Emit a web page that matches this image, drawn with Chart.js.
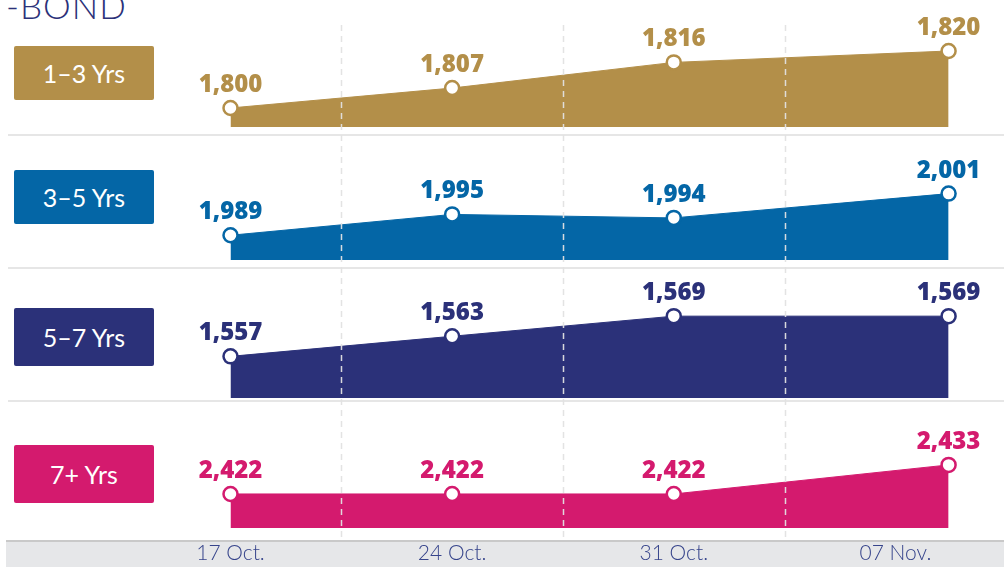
<!DOCTYPE html>
<html>
<head>
<meta charset="utf-8">
<script src="https://cdn.jsdelivr.net/npm/chart.js@4"></script>
<style>
  html, body { margin: 0; padding: 0; background: #fff; }
  #wrap { position: relative; width: 1004px; height: 567px; overflow: hidden; font-family: Lato, "Open Sans", sans-serif; }
  #title { position: absolute; left: 6px; top: -16px; font-size: 35px; font-weight: 300; color: #2b3179; letter-spacing: 1px; }
  .sep { position: absolute; left: 8px; right: 0; height: 2px; background: #e6e6e6; }
  #band { position: absolute; left: 6px; right: 0; top: 540px; height: 25px; background: #e6e7e9; border-top: 2px solid #c9c9c9; }
  .box { position: absolute; left: 14px; width: 140px; border-radius: 2px; color: #fff; font-size: 25px; font-weight: 400;
         display: flex; align-items: center; justify-content: center; }
  canvas { position: absolute; left: 0; top: 0; }
</style>
</head>
<body>
<div id="wrap">
  <div id="title">-BOND</div>
  <div class="sep" style="top:134px"></div>
  <div class="sep" style="top:267px"></div>
  <div class="sep" style="top:400px"></div>
  <div id="band"></div>
  <div id="boxes"></div>
  <canvas id="chart" width="1004" height="567"></canvas>
</div>
<script>
const dates = ['17 Oct.', '24 Oct.', '31 Oct.', '07 Nov.'];
const tickPos = [0, 1, 2, 3];
const pointPos = [0, 1, 2, 3.24];

const tenors = ['1–3 Yrs', '3–5 Yrs', '5–7 Yrs', '7+ Yrs'];
const yrs1to3 = [1800, 1807, 1816, 1820];
const yrs3to5 = [1989, 1995, 1994, 2001];
const yrs5to7 = [1557, 1563, 1569, 1569];
const yrs7plus = [2422, 2422, 2422, 2433];

const colors = ['#b38f49', '#0466a6', '#2b3179', '#d41a6e'];

// panel layout: box placement and per-panel axis window
const boxTops = [46, 170, 308, 445];
const boxHeights = [54, 54, 58, 58];
const axisRange = [
  { min: 1648.4, max: 1837.9, base: 1793.3 },
  { min: 1901.2, max: 2056.8, base: 1981.9 },
  { min: 1502.2, max: 1663.4, base: 1544.6 },
  { min: 2404.6, max: 2609.1, base: 2409.1 }
];

const boxes = document.getElementById('boxes');
tenors.forEach((t, i) => {
  const d = document.createElement('div');
  d.className = 'box';
  d.style.top = boxTops[i] + 'px';
  d.style.height = boxHeights[i] + 'px';
  d.style.background = colors[i];
  d.textContent = t;
  boxes.appendChild(d);
});

const series = [yrs1to3, yrs3to5, yrs5to7, yrs7plus];

const datasets = series.map((vals, i) => ({
  label: tenors[i],
  data: vals.map((v, j) => ({ x: pointPos[j], y: v })),
  yAxisID: 'y' + i,
  borderColor: colors[i],
  backgroundColor: colors[i],
  borderWidth: 1,
  tension: 0,
  fill: { value: axisRange[i].base },
  pointRadius: 7,
  pointBorderWidth: 2.5,
  pointBackgroundColor: '#fff',
  pointBorderColor: colors[i],
  clip: false
}));

const scales = {
  x: {
    type: 'linear',
    min: -1.04,
    max: 3.49,
    grid: { display: false, drawTicks: false },
    border: { display: false },
    afterBuildTicks: axis => { axis.ticks = tickPos.map(v => ({ value: v })); },
    ticks: {
      padding: 2,
      color: '#36448b',
      font: { family: 'Lato', size: 21, weight: '300', lineHeight: 1.1 },
      callback: (value) => dates[tickPos.indexOf(value)]
    }
  }
};
axisRange.forEach((r, i) => {
  scales['y' + i] = { display: false, min: r.min, max: r.max };
});

const overlay = {
  id: 'overlay',
  afterDatasetsDraw(chart) {
    const ctx = chart.ctx;
    const xs = chart.scales.x;
    const area = chart.chartArea;
    ctx.save();
    ctx.strokeStyle = 'rgba(226,226,226,0.95)';
    ctx.lineWidth = 1.5;
    ctx.setLineDash([6, 5]);
    for (let k = 0; k < tickPos.length - 1; k++) {
      const px = Math.round(xs.getPixelForValue(tickPos[k] + 0.5)) + 0.5;
      ctx.beginPath();
      ctx.moveTo(px, 25);
      ctx.lineTo(px, area.bottom);
      ctx.stroke();
    }
    ctx.setLineDash([]);
    ctx.textAlign = 'center';
    ctx.textBaseline = 'alphabetic';
    ctx.font = '800 24px "Open Sans"';
    chart.data.datasets.forEach((ds, i) => {
      const meta = chart.getDatasetMeta(i);
      ctx.fillStyle = colors[i];
      meta.data.forEach((pt, j) => {
        ctx.fillText(series[i][j].toLocaleString('en-US'), pt.x, pt.y - 16);
      });
    });
    ctx.restore();
  }
};

new Chart(document.getElementById('chart'), {
  type: 'line',
  data: { datasets },
  options: {
    responsive: false,
    animation: false,
    layout: { padding: 0, autoPadding: false },
    plugins: { legend: { display: false }, tooltip: { enabled: false } },
    scales
  },
  plugins: [overlay]
});
</script>
</body>
</html>
